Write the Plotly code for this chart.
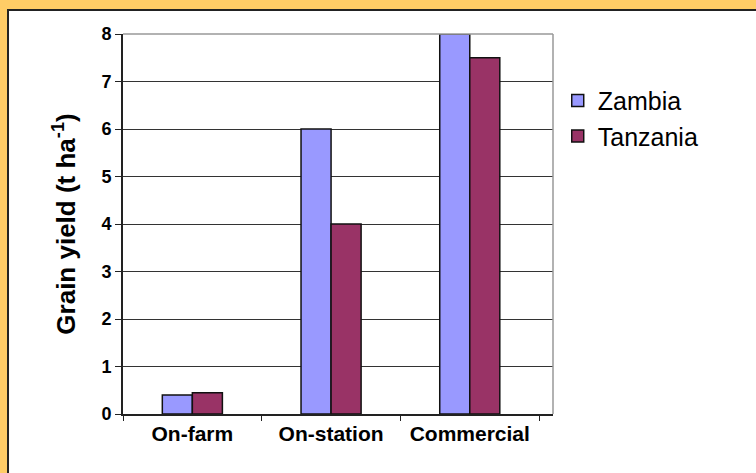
import plotly.graph_objects as go

# Grain yield by production setting
categories = ["On-farm", "On-station", "Commercial"]
zambia = [0.4, 6.0, 8.0]
tanzania = [0.45, 4.0, 7.5]
y_ticks = [0, 1, 2, 3, 4, 5, 6, 7, 8]

FONT = "Liberation Sans, Arial, sans-serif"

fig = go.Figure()
fig.add_trace(go.Bar(
    name="Zambia", x=categories, y=zambia,
    marker=dict(color="#9999FF", line=dict(color="#111111", width=1.5)),
))
fig.add_trace(go.Bar(
    name="Tanzania", x=categories, y=tanzania,
    marker=dict(color="#993366", line=dict(color="#111111", width=1.5)),
))

fig.update_layout(
    width=756, height=473,
    margin=dict(l=123, r=203, t=34, b=59, autoexpand=False),
    paper_bgcolor="#FFCC66",
    plot_bgcolor="white",
    barmode="group",
    bargap=0.567,
    bargroupgap=0,
    showlegend=True,
    legend=dict(
        x=1.011, y=0.885, xanchor="left", yanchor="top",
        font=dict(family=FONT, size=25, color="#000000"),
        bgcolor="rgba(0,0,0,0)",
        tracegroupgap=0,
    ),
    font=dict(family=FONT, color="#000000"),
    shapes=[
        # white chart panel with dark border
        dict(type="rect", xref="paper", yref="paper", layer="below",
             x0=-0.2674, x1=1.6, y0=-0.3, y1=1.063,
             fillcolor="white", line=dict(color="#222222", width=2)),
        # light plot-area border on top and right
        dict(type="line", xref="paper", yref="paper", layer="above",
             x0=0, x1=1, y0=1, y1=1, line=dict(color="#999999", width=1.5)),
        dict(type="line", xref="paper", yref="paper", layer="above",
             x0=1, x1=1, y0=0, y1=1, line=dict(color="#999999", width=1.5)),
    ],
)

fig.update_xaxes(
    type="category",
    range=[-0.5, 2.6],
    showline=True, linecolor="#222222", linewidth=2,
    ticks="outside", tickson="boundaries", ticklen=5, tickcolor="#222222",
    tickfont=dict(family=FONT, size=21, color="#000000", weight="bold"),
    showgrid=False,
)
fig.update_yaxes(
    range=[0, 8],
    tickvals=y_ticks,
    showline=True, linecolor="#222222", linewidth=2,
    ticks="outside", ticklen=6, tickcolor="#222222",
    tickfont=dict(family=FONT, size=18, color="#000000", weight="bold"),
    showgrid=True, gridcolor="#333333", gridwidth=1,
    zeroline=False,
    title=dict(
        text="Grain yield (t ha<sup>-1</sup>)",
        font=dict(family=FONT, size=26, color="#000000", weight="bold"),
        standoff=18,
    ),
)

fig.write_html("out.html")
